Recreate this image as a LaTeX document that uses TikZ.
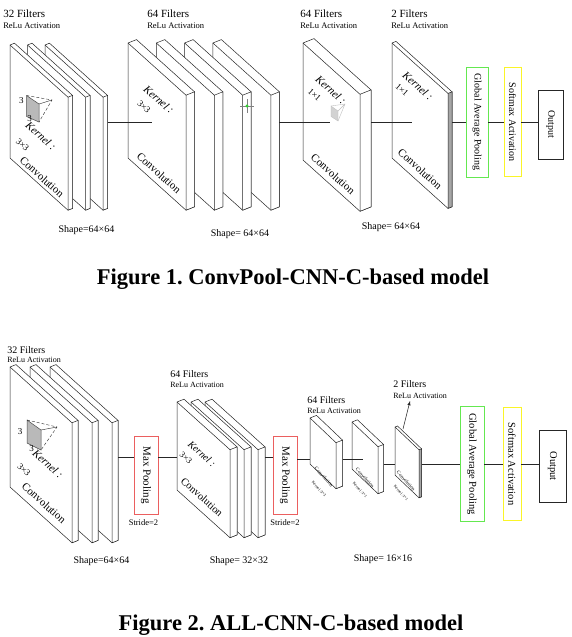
\documentclass[tikz,border=0pt]{standalone}
\usepackage{fontspec}
\setmainfont{Liberation Serif}
\usetikzlibrary{arrows}
\frenchspacing
\definecolor{gapgreen}{RGB}{100,232,80}
\definecolor{smyellow}{RGB}{250,245,40}
\definecolor{mpred}{RGB}{235,95,95}
\def\slp{0.9}
% slab: [side fill]{x}{y}{width}{height}{depth}
\newcommand{\convslab}[6][white]{%
  \filldraw[fill=white] (#2,#3) -- ++(#6,{-0.4*#6}) -- ++(#4,{\slp*#4}) -- ++(0,#5)
    -- ++({-#6},{0.4*#6}) -- ++({-#4},{-\slp*#4}) -- cycle;
  \filldraw[fill=#1] ({#2+#4},{#3+\slp*#4}) -- ++(#6,{-0.4*#6}) -- ++(0,#5)
    -- ++({-#6},{0.4*#6}) -- cycle;
  \draw (#2,#3) -- ++(#4,{\slp*#4});}

\begin{document}
\begin{tikzpicture}[x=1pt,y=-1pt,line width=0.5pt,draw=black!85,
    filt/.style={anchor=base west,inner sep=0,font=\fontsize{11}{13}\selectfont},
    relu/.style={anchor=base west,inner sep=0,font=\fontsize{8.5}{10}\selectfont},
    shp/.style={anchor=base,inner sep=0,font=\fontsize{10}{12}\selectfont},
    kern/.style={rotate=-42,inner sep=0,font=\fontsize{11}{13}\itshape},
    ksize/.style={rotate=-42,inner sep=0,font=\fontsize{9}{11}\selectfont},
    conv/.style={rotate=-42,inner sep=0,font=\fontsize{11}{13}\selectfont},
    box/.style={draw,line width=0.8pt,inner sep=0,font=\fontsize{10}{12}\selectfont},
    figcap/.style={anchor=base,inner sep=0,font=\fontsize{22.5}{26}\bfseries}]
  \useasboundingbox[fill=white] (0,0) rectangle (572,637);

  %% Figure 1
  \node[filt] (f1a) at (3,17) {32 Filters};
  \node[relu] (r1a) at (3,28) {ReLu Activation};
  \node[filt] (f1b) at (147,17) {64 Filters};
  \node[relu] (r1b) at (147,28) {ReLu Activation};
  \node[filt] (f1c) at (300,17) {64 Filters};
  \node[relu] (r1c) at (300,28) {ReLu Activation};
  \node[filt] (f1d) at (391,17) {2 Filters};
  \node[relu] (r1d) at (391,28) {ReLu Activation};

  \foreach \i in {2,1,0} {\convslab{10+17.5*\i}{45}{58}{113}{4.5}}
  % kernel
  \filldraw[fill=gray!55,draw=black!70] (26.5,95.5) -- (39,104) -- (39,122) -- (26.5,116.5) -- cycle;
  \draw[densely dashed,line width=0.4pt] (26.5,95.5) -- (52,100) -- (39,122);
  \draw[line width=0.4pt] (39,104) -- (52,100);
  \node[inner sep=0,font=\fontsize{9}{11}\selectfont] (k1a) at (21.5,101) {3};
  \node[inner sep=0,font=\fontsize{9}{11}\selectfont] (k1b) at (29.5,119) {3};
  \node[kern] (kn1a) at (41,136) {Kernel :};
  \node[ksize] (ks1a) at (22.5,145) {3×3};
  \node[conv] (cv1a) at (42,177) {Convolution};

  \foreach \i in {3,2,1,0} {\convslab{128+28.3*\i}{43}{58}{115}{8.5}}
  \coordinate (g1out) at (107.5,122);
  \coordinate (g2in) at (152,122);
  \draw (g1out) -- (g2in);
  \node[kern] (kn1b) at (159,99.5) {Kernel :};
  \node[ksize] (ks1b) at (144,107) {3×3};
  \node[conv] (cv1b) at (159,173) {Convolution};
  % cursor mark
  \draw[gray,line width=0.4pt] (240,106) -- (254,106) (247,99) -- (247,113);
  \fill[green!65!gray] (247,106) circle (1.6);

  \convslab{303}{43}{57}{117}{11}
  \coordinate (g2out) at (279.4,122);
  \coordinate (g3in) at (330,122);
  \draw (g2out) -- (g3in);
  \filldraw[fill=gray!35,draw=gray!50,line width=0.3pt] (331,106) -- (338,111) -- (338,121) -- (331,116.5) -- cycle;
  \draw[gray!50,line width=0.4pt] (331,106) -- (345,104) -- (338,121) (338,111) -- (345,104);
  \node[kern] (kn1c) at (331,90) {Kernel :};
  \node[ksize] (ks1c) at (314.5,95) {1×1};
  \node[conv] (cv1c) at (333,174) {Convolution};

  \convslab[gray!70]{392}{43}{56}{115}{4}
  \coordinate (g3out) at (371,122);
  \coordinate (g4in) at (412,122);
  \draw (g3out) -- (g4in);
  \node[kern] (kn1d) at (418,86) {Kernel :};
  \node[ksize] (ks1d) at (402,90) {1×1};
  \node[conv] (cv1d) at (420,169) {Convolution};
  \coordinate (g4out) at (452,122);

  \node[box,draw=gapgreen,minimum width=22,minimum height=110] (gap1) at (477,122) {\rotatebox{-90}{Global Average Pooling}};
  \node[box,draw=smyellow,minimum width=17,minimum height=109] (sm1) at (512.5,122) {\rotatebox{-90}{Softmax Activation}};
  \node[box,minimum width=25,minimum height=69] (out1) at (550.5,124.5) {\rotatebox{-90}{Output}};
  \draw (g4out) -- (gap1.west);
  \draw (gap1.east) -- (sm1.west);
  \draw (sm1.east) -- (sm1.east -| out1.west);

  \node[shp] (sh1a) at (86.5,232) {Shape=64×64};
  \node[shp] (sh1b) at (240,236) {Shape= 64×64};
  \node[shp] (sh1c) at (391,229) {Shape= 64×64};
  \node[figcap] (cap1) at (293,284) {Figure 1. ConvPool-CNN-C-based model};

  %% Figure 2
  \node[filt,font=\fontsize{10}{12}\selectfont] (f2a) at (7,353) {32 Filters};
  \node[relu,font=\fontsize{8}{10}\selectfont] (r2a) at (7,362) {ReLu Activation};
  \node[filt,font=\fontsize{10}{12}\selectfont] (f2b) at (170,377) {64 Filters};
  \node[relu,font=\fontsize{8}{10}\selectfont] (r2b) at (170,387) {ReLu Activation};
  \node[filt,font=\fontsize{10}{12}\selectfont] (f2c) at (307,403) {64 Filters};
  \node[relu,font=\fontsize{8}{10}\selectfont] (r2c) at (307,413) {ReLu Activation};
  \node[filt,font=\fontsize{10}{12}\selectfont] (f2d) at (393,387) {2 Filters};
  \node[relu,font=\fontsize{8}{10}\selectfont] (r2d) at (393,398) {ReLu Activation};

  \foreach \i in {2,1,0} {\convslab{10+20*\i}{367}{62}{120}{6}}
  \filldraw[fill=gray!55,draw=black!70] (27,420) -- (41,430) -- (41,450) -- (27,443) -- cycle;
  \draw[densely dashed,line width=0.4pt] (27,420) -- (57,427) -- (41,450);
  \draw[line width=0.4pt] (41,430) -- (57,427);
  \node[inner sep=0,font=\fontsize{9}{11}\selectfont] (k2a) at (20,432) {3};
  \node[inner sep=0,font=\fontsize{9}{11}\selectfont] (k2b) at (31.5,448.5) {3};
  \node[kern] (kn2a) at (48,464) {Kernel :};
  \node[ksize] (ks2a) at (24,470) {3×3};
  \node[conv] (cv2a) at (44,503) {Convolution};
  \coordinate (gaout) at (118,457);

  \node[box,draw=mpred,minimum width=24,minimum height=78,font=\fontsize{11}{13}\selectfont] (mp1) at (146,475) {\rotatebox{-90}{Max Pooling}};
  \node[shp,font=\fontsize{8.5}{10}\selectfont] (st1) at (143.5,525) {Stride=2};
  \draw (gaout) -- (gaout -| mp1.west);

  \foreach \i in {2,1,0} {\convslab{177+14*\i}{402}{53}{88}{7}}
  \coordinate (gbin) at (177,457);
  \coordinate (gbout) at (265,457);
  \draw (gbin -| mp1.east) -- (gbin);
  \node[kern,font=\fontsize{10}{12}\itshape] (kn2b) at (202,454) {Kernel :};
  \node[ksize,font=\fontsize{8.5}{10}\selectfont] (ks2b) at (186,458) {3×3};
  \node[conv,font=\fontsize{10.5}{12}\selectfont] (cv2b) at (202,497) {Convolution};

  \node[box,draw=mpred,minimum width=24,minimum height=78,font=\fontsize{11}{13}\selectfont] (mp2) at (285,475) {\rotatebox{-90}{Max Pooling}};
  \node[shp,font=\fontsize{8.5}{10}\selectfont] (st2) at (285,525) {Stride=2};
  \draw (gbout) -- (gbout -| mp2.west);

  \begin{scope}
    \def\slp{0.95}
    \convslab{310}{418}{26}{46}{6.5}
    \convslab{352}{422}{26}{47}{5.5}
    \convslab[gray!70]{395}{427}{24}{48}{2.5}
  \end{scope}
  \coordinate (c1in) at (310,459);
  \coordinate (c1out) at (342.5,459);
  \coordinate (c2in) at (363,459);
  \coordinate (c2out) at (383.5,464);
  \coordinate (c3in) at (395,464);
  \coordinate (c3out) at (421.5,464);
  \draw (c1in -| mp2.east) -- (c1in);
  \draw (c1out) -- (c2in);
  \draw (c2out) -- (c3in);
  \foreach \n/\x/\y/\k in {1/324/477/3×3, 2/365/478/1×1, 3/406/481/1×1} {
    \node[rotate=-48,inner sep=0,font=\fontsize{5}{6}\selectfont] (cs\n) at (\x,\y) {Convolution};
    \node[rotate=-48,inner sep=0,font=\fontsize{4}{5}\selectfont] (kc\n) at (\x-5,\y+12) {Kernel :\k};
  }
  \coordinate (c3top) at (403,429);
  \coordinate (relu4) at (410,401);
  \draw[->,>=latex] (c3top) -- (relu4);

  \node[box,draw=gapgreen,minimum width=24,minimum height=115,font=\fontsize{10.5}{12}\selectfont] (gap2) at (472,464) {\rotatebox{-90}{Global Average Pooling}};
  \node[box,draw=smyellow,minimum width=18,minimum height=113,font=\fontsize{10.5}{12}\selectfont] (sm2) at (512,464) {\rotatebox{-90}{Softmax Activation}};
  \node[box,minimum width=27,minimum height=72,font=\fontsize{10.5}{12}\selectfont] (out2) at (552.5,466) {\rotatebox{-90}{Output}};
  \draw (c3out) -- (gap2.west);
  \draw (gap2.east) -- (sm2.west);
  \draw (sm2.east) -- (sm2.east -| out2.west);

  \node[shp] (sh2a) at (101.5,563) {Shape=64×64};
  \node[shp] (sh2b) at (239,563) {Shape= 32×32};
  \node[shp] (sh2c) at (383,561) {Shape= 16×16};
  \node[figcap] (cap2) at (291,630) {Figure 2. ALL-CNN-C-based model};
\end{tikzpicture}
\end{document}
